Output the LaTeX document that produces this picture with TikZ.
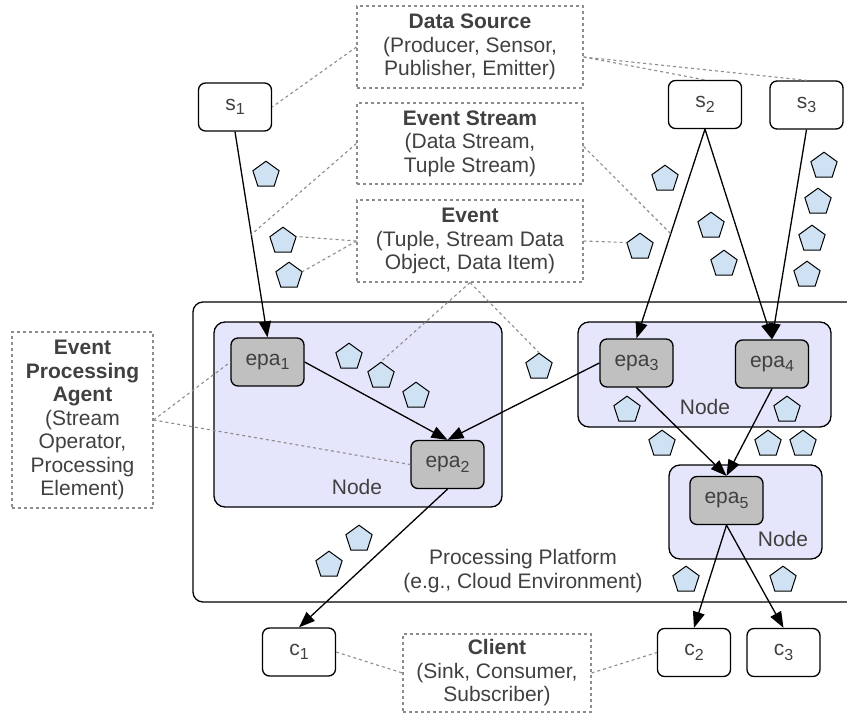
\documentclass[tikz,border=0pt]{standalone}
\usepackage{fontspec}
\setmainfont{Liberation Sans}
\usetikzlibrary{arrows.meta,shapes.geometric,calc}
\definecolor{txt}{HTML}{404040}
\definecolor{dashgray}{HTML}{8C8C8C}
\definecolor{hostfill}{HTML}{E5E5FB}
\definecolor{epagray}{HTML}{C0C0C0}
\definecolor{evblue}{HTML}{CFE2F3}
\newcommand{\lowidx}[1]{\raisebox{-0.4ex}{\fontsize{16}{16}\selectfont #1}}
\newcommand{\mylblfont}{\fontsize{21}{23.5}\selectfont}
\tikzset{
  agentbox/.style={draw=black, line width=1.3pt, rounded corners=7pt, minimum width=73pt,
    minimum height=48pt, inner sep=0pt, text=txt, font=\mylblfont},
  epabox/.style={agentbox, fill=epagray},
  note/.style={draw=dashgray, dash pattern=on 3pt off 3pt, line width=1.1pt, text=txt,
    align=center, inner sep=0pt, font=\mylblfont},
  link/.style={draw=dashgray, line width=1.1pt, dash pattern=on 3pt off 3pt},
  flow/.style={line width=1.3pt, -{Triangle[length=16pt,width=12pt]}},
  ev/.style={regular polygon, regular polygon sides=5, minimum size=27.6pt, inner sep=0pt,
    draw=black, line width=1pt, fill=evblue},
  hostbox/.style={draw=black, line width=1.3pt, rounded corners=11pt, fill=hostfill, inner sep=0pt},
  plainlabel/.style={text=txt, font=\mylblfont, align=center, inner sep=0pt}
}
\begin{document}
\begin{tikzpicture}[x=1pt,y=-1pt]
\useasboundingbox (0,0) rectangle (847,715);
\clip (0,0) rectangle (847,715);

% platform and hosts
\node[draw=black, line width=1.3pt, rounded corners=10pt, minimum width=677pt, minimum height=300pt, inner sep=0pt] (plat) at (531.5,452) {};
\node[hostbox, minimum width=288pt, minimum height=185pt] (host1) at (358,414.5) {};
\node[hostbox, minimum width=253pt, minimum height=105pt] (host2) at (704.5,374.5) {};
\node[hostbox, minimum width=153pt, minimum height=94pt] (host3) at (745.5,512) {};
\node[plainlabel] (h1lbl) at (357,487) {Node};
\node[plainlabel] (h2lbl) at (705,407) {Node};
\node[plainlabel] (h3lbl) at (783,539) {Node};
\node[plainlabel] (platlbl) at (523,571) {Processing Platform\\(e.g., Cloud Environment)};

% sources, clients, agents
\node[agentbox] (s1) at (235,107) {s\lowidx{1}};
\node[agentbox] (s2) at (705,104.5) {s\lowidx{2}};
\node[agentbox] (s3) at (806.5,105) {s\lowidx{3}};
\node[agentbox] (c1) at (299,652) {c\lowidx{1}};
\node[agentbox] (c2) at (694,652.5) {c\lowidx{2}};
\node[agentbox] (c3) at (783.5,652.5) {c\lowidx{3}};
\node[epabox] (epa1) at (267.5,362) {epa\lowidx{1}};
\node[epabox] (epa2) at (447.5,464.5) {epa\lowidx{2}};
\node[epabox] (epa3) at (636.5,363) {epa\lowidx{3}};
\node[epabox] (epa4) at (772,364) {epa\lowidx{4}};
\node[epabox] (epa5) at (726.5,500.5) {epa\lowidx{5}};

% notes
\node[note, minimum width=226pt, minimum height=82pt] (DS) at (470,47)
  {\textbf{Data Source}\\(Producer, Sensor,\\Publisher, Emitter)};
\node[note, minimum width=226pt, minimum height=81pt] (ES) at (470,143.5)
  {\textbf{Event Stream}\\(Data Stream,\\Tuple Stream)};
\node[note, minimum width=226pt, minimum height=82pt] (EV) at (470,241)
  {\textbf{Event}\\(Tuple, Stream Data\\Object, Data Item)};
\node[note, minimum width=141pt, minimum height=176pt] (EPA) at (82.5,420)
  {\textbf{Event}\\\textbf{Processing}\\\textbf{Agent}\\(Stream\\Operator,\\Processing\\Element)};
\node[note, minimum width=188pt, minimum height=78pt] (CL) at (497,673)
  {\textbf{Client}\\(Sink, Consumer,\\Subscriber)};

% events (pentagons)
\foreach \i/\x/\y in {1/266/175, 2/283/241, 3/289/276, 4/640/247, 5/665/179, 6/711/226,
  7/724/264, 8/824/166, 9/818/202, 10/812/239, 11/807/275, 12/349/357, 13/381/376,
  14/416/396, 15/539/367, 16/627/410, 17/787/410, 18/662/444, 19/768/444, 20/803/444,
  21/359/539, 22/329/565, 23/686/580, 24/783/580}
  \node[ev] (e\i) at (\x,\y) {};

% flows
\draw[flow] (s1.south) -- coordinate (m1) (epa1.north);
\draw[flow] (s2.south) -- coordinate (m2) (epa3.north);
\draw[flow] (s2.south) -- (epa4.north);
\draw[flow] (s3.south) -- (epa4.north);
\draw[flow] (epa1.east) -- (epa2.north);
\draw[flow] (epa3.west) -- (epa2.north);
\draw[flow] (epa3.south) -- (epa5.north);
\draw[flow] (epa4.south) -- (epa5.north);
\draw[flow] (epa2.south) -- (c1.north);
\draw[flow] (epa5.south) -- (c2.north);
\draw[flow] (epa5.south) -- (c3.north);

% dashed links
\draw[link] (DS.west) -- (s1.east);
\draw[link] ([yshift=-10pt]DS.east) -- (s2.north);
\draw[link] ([yshift=-10pt]DS.east) -- (s3.north);
\draw[link] (ES.west) -- (m1);
\draw[link] ([yshift=-3pt]ES.east) -- (m2);
\draw[link] (EV.west) -- (e2.corner 5);
\draw[link] (EV.west) -- (e3.corner 5);
\draw[link] (EV.east) -- (e4.corner 2);
\draw[link] (EV.south) -- (e13.corner 1);
\draw[link] (EV.south) -- (e15.corner 1);
\draw[link] (EPA.east) -- (epa1.west);
\draw[link] (EPA.east) -- (epa2.west);
\draw[link] (c1.east) -- (CL.west);
\draw[link] (CL.east) -- (c2.west);
\end{tikzpicture}
\end{document}
